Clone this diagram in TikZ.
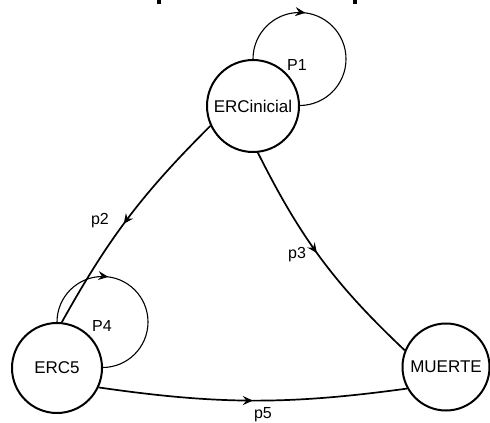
\documentclass[tikz,border=0pt]{standalone}
\usepackage{fontspec}
\setmainfont{Liberation Sans}
\usetikzlibrary{arrows.meta,decorations.markings}
\tikzset{
  state/.style={circle,draw,line width=2pt,minimum size=#1,inner sep=0pt,font=\fontsize{17}{19}\selectfont},
  trans/.style={line width=1.7pt},
  loopline/.style={line width=1.1pt},
  midarrow/.style={postaction={decorate},decoration={markings,mark=at position #1 with {\arrow{Stealth[length=10pt,width=9pt,inset=3.5pt]}}}},
  lbl/.style={font=\fontsize{16}{18}\selectfont,inner sep=0pt},
}
\begin{document}
\begin{tikzpicture}[x=1pt,y=1pt]
\useasboundingbox (0,0) rectangle (490,-423);
\fill (157,0) rectangle (161,-4);
\fill (353,0) rectangle (357,-4);
\node[state=92pt] (ini) at (253,-106) {ERCinicial};
\node[state=90pt] (erc5) at (57,-368) {ERC5};
\node[state=87pt] (muerte) at (446,-367) {MUERTE};
% self loops
\draw[loopline,midarrow=0.36] (ini.north) arc[start angle=180,end angle=-90,radius=46.5];
\draw[loopline,midarrow=0.36] (erc5.north) arc[start angle=180,end angle=-90,radius=45.5];
% transitions
\draw[trans,midarrow=0.53] (ini.205) to[bend right=8] (erc5.84);
\draw[trans,midarrow=0.47] (ini.276) to[bend right=10] (muerte.158);
\draw[trans,midarrow=0.5] (erc5.-25) to[bend right=8] (muerte.209);
% labels
\node[lbl] (lp1) at (297,-65) {P1};
\node[lbl] (lp4) at (102,-326) {P4};
\node[lbl] (lp2) at (100,-221) {p2};
\node[lbl] (lp3) at (297,-255) {p3};
\node[lbl] (lp5) at (263,-415) {p5};
\end{tikzpicture}
\end{document}
